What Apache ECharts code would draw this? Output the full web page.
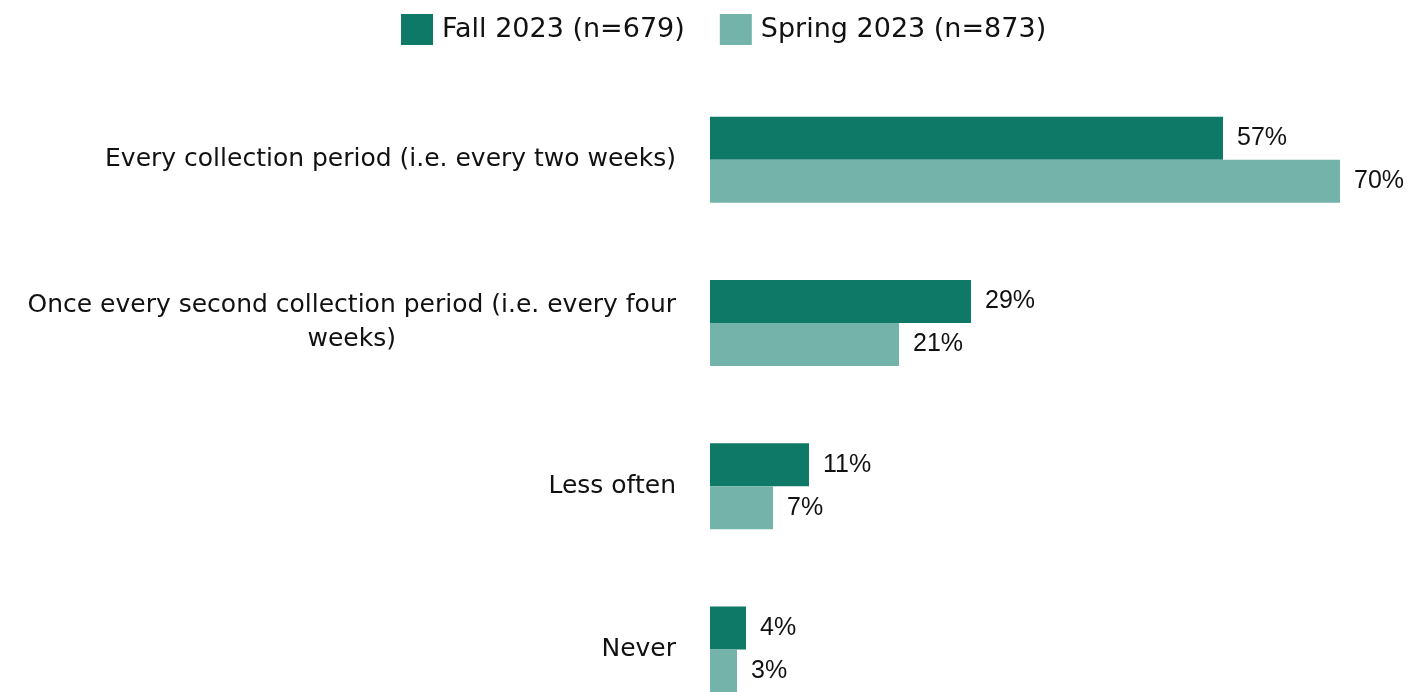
<!DOCTYPE html>
<html><head><meta charset="utf-8">
<script src="https://cdn.jsdelivr.net/npm/echarts@6/dist/echarts.min.js"></script>
<style>html,body{margin:0;padding:0;background:#fff}#c{width:1409px;height:692px}</style>
</head><body><div id="c"></div>
<script>
const categories = [
  'Every collection period (i.e. every two weeks)',
  'Once every second collection period (i.e. every four\nweeks)',
  'Less often',
  'Never'
];
const seriesNames = ['Fall 2023 (n=679)', 'Spring 2023 (n=873)'];
const fall2023 = [57, 29, 11, 4];
const spring2023 = [70, 21, 7, 3];
const colors = ['#0f7968', '#73b3a9'];

const chart = echarts.init(document.getElementById('c'));
const labelStyle = {
  show: true, position: 'right', distance: 14,
  formatter: p => p.value + '%',
  fontFamily: 'Liberation Sans, Arial, sans-serif', fontSize: 25, color: '#111'
};
chart.setOption({
  animation: false,
  legend: {
    top: 9, left: 396, icon: 'rect',
    itemWidth: 32, itemHeight: 31, itemGap: 35,
    textStyle: { fontFamily: 'DejaVu Sans', fontSize: 27, color: '#111', padding: [0, 0, 0, 4] },
    data: seriesNames
  },
  grid: { left: 710, top: 78, width: 693, height: 653, outerBoundsMode: 'none', containLabel: false },
  xAxis: { type: 'value', min: 0, max: 77, show: false },
  yAxis: {
    type: 'category', inverse: true, data: categories,
    axisLine: { show: false }, axisTick: { show: false },
    axisLabel: {
      margin: 34,
      formatter: v => v.split('\n').map(l => '{a|' + l + '}').join('\n'),
      rich: { a: { align: 'center', fontFamily: 'DejaVu Sans', fontSize: 25, color: '#111', lineHeight: 34 } }
    }
  },
  series: [
    { name: seriesNames[0], type: 'bar', data: fall2023, itemStyle: { color: colors[0] },
      barWidth: 43, barGap: '0%', label: labelStyle },
    { name: seriesNames[1], type: 'bar', data: spring2023, itemStyle: { color: colors[1] },
      barWidth: 43, barGap: '0%', label: labelStyle }
  ]
});
</script></body></html>
